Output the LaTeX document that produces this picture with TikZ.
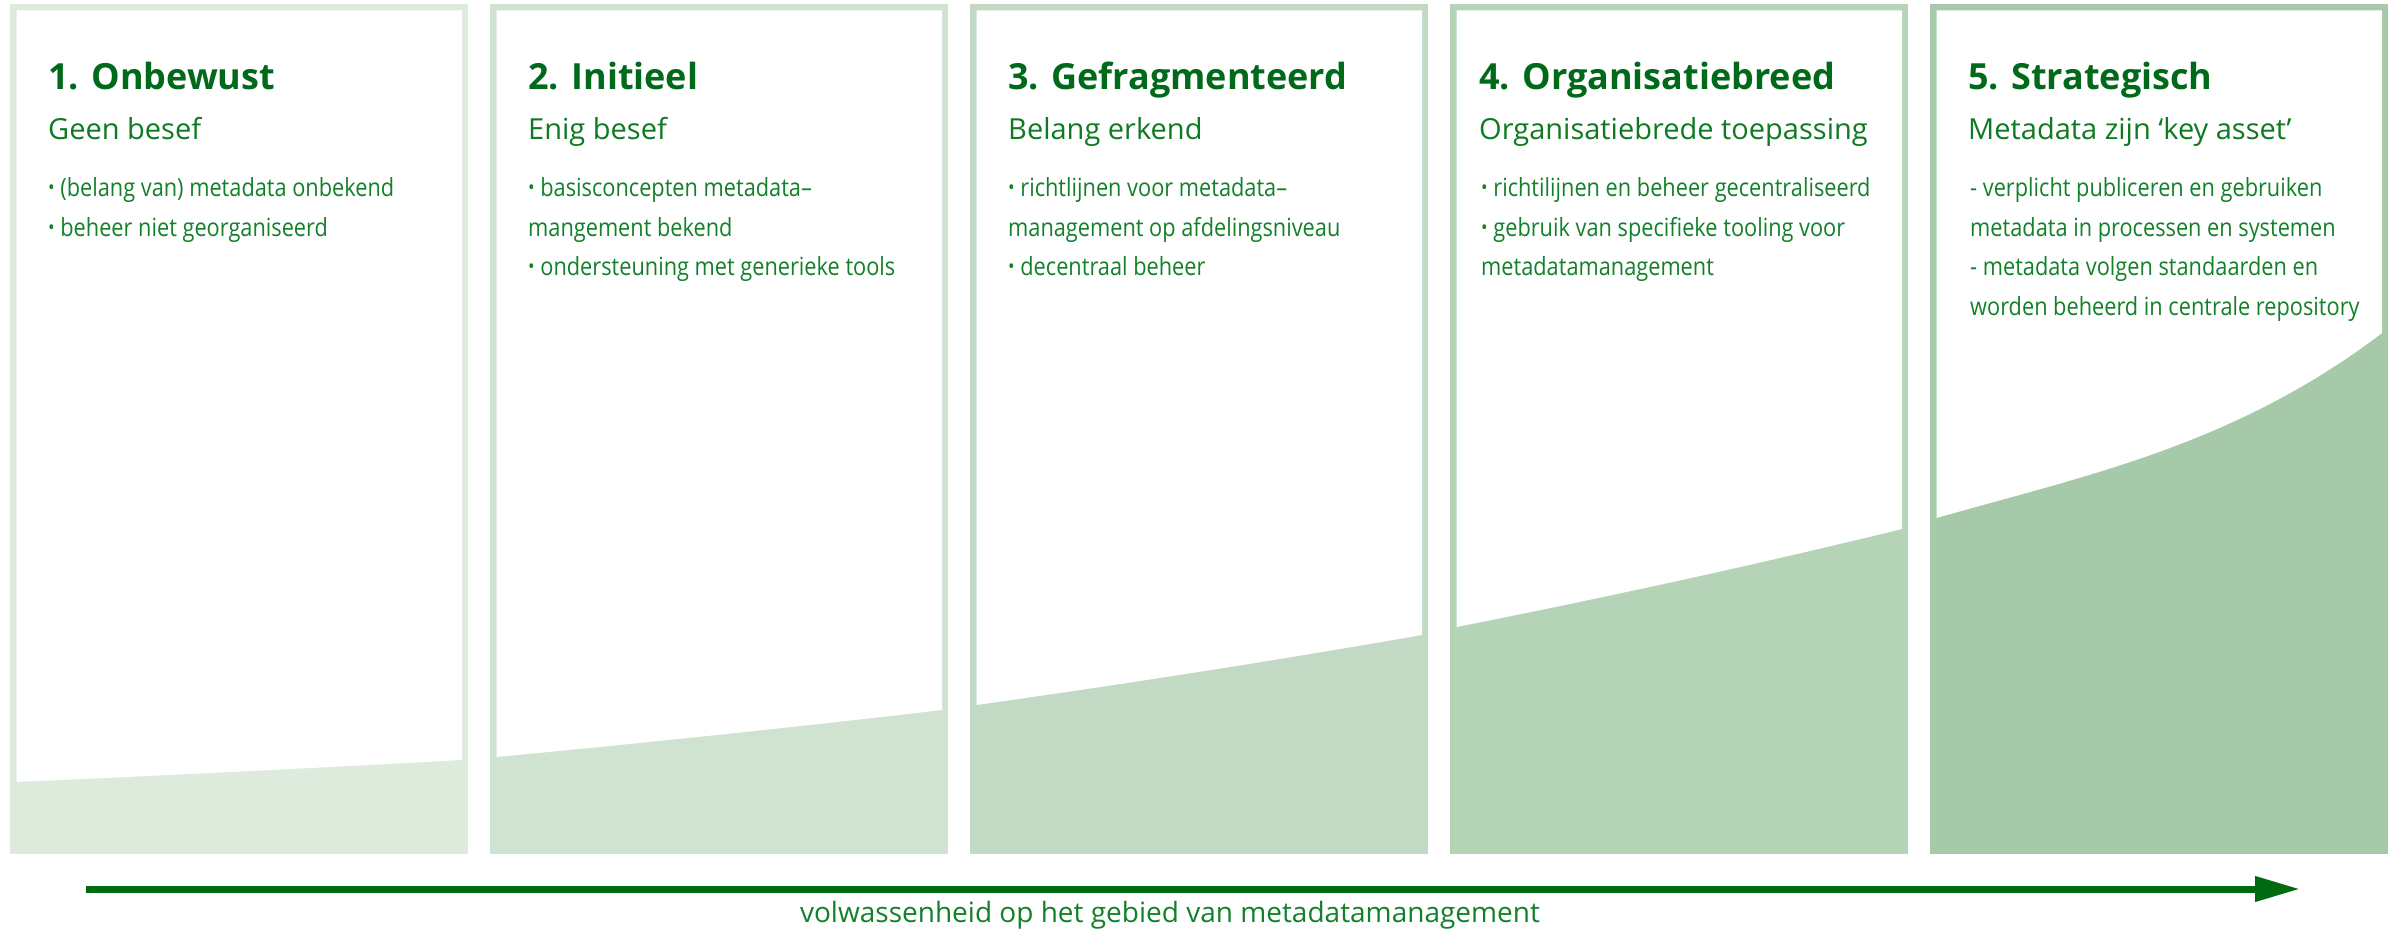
\documentclass[tikz,border=0pt]{standalone}
\usepackage{fontspec}
\setmainfont{Open Sans}
\newfontfamily\condfont[FakeStretch=0.87]{Open Sans}
\usetikzlibrary{arrows.meta}
\definecolor{pA}{HTML}{DDEBDD}
\definecolor{pB}{HTML}{CFE3D0}
\definecolor{pC}{HTML}{C2DAC4}
\definecolor{pD}{HTML}{B5D3B7}
\definecolor{pE}{HTML}{A6CAA9}
\definecolor{titlegreen}{HTML}{00691A}
\definecolor{subgreen}{HTML}{0E7A22}
\definecolor{bulgreen}{HTML}{13802A}
\definecolor{arrowgreen}{HTML}{006A10}
\newcommand{\bul}{\raisebox{0.08em}{\scalebox{0.8}{•}}\ }
\tikzset{
  ttl/.style={anchor=base west, inner sep=0pt, text=titlegreen, font=\bfseries\fontsize{36}{40}\selectfont},
  sub/.style={anchor=base west, inner sep=0pt, text=subgreen, font=\fontsize{29}{32}\selectfont},
  bl/.style={anchor=base west, inner sep=0pt, text=bulgreen, font=\condfont\fontsize{25}{30}\selectfont},
  axislabel/.style={anchor=base, inner sep=0pt, text=bulgreen, font=\fontsize{28}{30}\selectfont},
  progress/.style={line width=7pt, draw=arrowgreen, -{Triangle[length=45pt,width=24pt]}}
}
\begin{document}
\begin{tikzpicture}[x=1pt,y=-1pt]
\useasboundingbox (0,0) rectangle (2399,933);
% panels
\foreach \i/\yl/\yr/\fa/\fb/\col in {1/782/760/0.30/0.63/pA,2/757/710/0.30/0.63/pB,3/705/635/0.30/0.63/pC,4/627/529/0.30/0.63/pD,5/518/333/0.23/0.39/pE}{
  \pgfmathsetmacro{\L}{10+480*(\i-1)}
  \pgfmathsetmacro{\R}{\L+458}
  \pgfmathsetmacro{\xl}{\L+6.5}
  \pgfmathsetmacro{\xr}{\L+452}
  \pgfmathsetmacro{\ca}{\xl+148.5}
  \pgfmathsetmacro{\cb}{\xr-148.5}
  \pgfmathsetmacro{\ya}{\yl+(\yr-\yl)*\fa}
  \pgfmathsetmacro{\yb}{\yl+(\yr-\yl)*\fb}
  \fill[\col] (\L,4) rectangle (\R,854);
  \fill[white] (\xl,10.5) -- (\xr,10.5) -- (\xr,\yr) .. controls (\cb,\yb) and (\ca,\ya) .. (\xl,\yl) -- cycle;
}
% panel 1
\node[ttl] (t1) at (48,90) {1. Onbewust};
\node[sub] (s1) at (48,140) {Geen besef};
\node[bl] (b1a) at (48,197) {\bul(belang van) metadata onbekend};
\node[bl] (b1b) at (48,236.5) {\bul beheer niet georganiseerd};
% panel 2
\node[ttl] (t2) at (528,90) {2. Initieel};
\node[sub] (s2) at (528,140) {Enig besef};
\node[bl] (b2a) at (528,197) {\bul basisconcepten metadata–};
\node[bl] (b2b) at (528,236.5) {mangement bekend};
\node[bl] (b2c) at (528,276) {\bul ondersteuning met generieke tools};
% panel 3
\node[ttl] (t3) at (1008,90) {3. Gefragmenteerd};
\node[sub] (s3) at (1008,140) {Belang erkend};
\node[bl] (b3a) at (1008,197) {\bul richtlijnen voor metadata–};
\node[bl] (b3b) at (1008,236.5) {management op afdelingsniveau};
\node[bl] (b3c) at (1008,276) {\bul decentraal beheer};
% panel 4
\node[ttl] (t4) at (1479,90) {4. Organisatiebreed};
\node[sub] (s4) at (1479,140) {Organisatiebrede toepassing};
\node[bl] (b4a) at (1481,197) {\bul richtilijnen en beheer gecentraliseerd};
\node[bl] (b4b) at (1481,236.5) {\bul gebruik van specifieke tooling voor};
\node[bl] (b4c) at (1481,276) {metadatamanagement};
% panel 5
\node[ttl] (t5) at (1968,90) {5. Strategisch};
\node[sub] (s5) at (1968,140) {Metadata zijn ‘key asset’};
\node[bl] (b5a) at (1970,197) {- verplicht publiceren en gebruiken};
\node[bl] (b5b) at (1970,236.5) {metadata in processen en systemen};
\node[bl] (b5c) at (1970,276) {- metadata volgen standaarden en};
\node[bl] (b5d) at (1970,315.5) {worden beheerd in centrale repository};
% axis
\coordinate (as) at (86,889);
\coordinate (ae) at (2300,889);
\draw[progress] (as) -- (ae);
\node[axislabel] (lab) at (1170,922) {volwassenheid op het gebied van metadatamanagement};
\end{tikzpicture}
\end{document}
